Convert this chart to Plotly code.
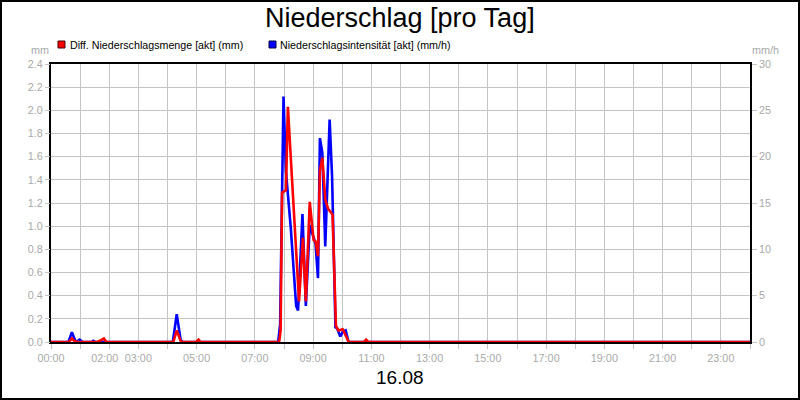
import plotly.graph_objects as go

# ---- data -------------------------------------------------------------
# Niederschlagsintensität [akt] (mm/h) – right axis
intens_time = ["00:00", "00:36", "00:43", "00:51", "00:59", "01:05", "01:24", "01:27", "01:31",
               "04:11", "04:19", "04:27", "04:31",
               "07:48", "07:52", "07:59", "08:04", "08:14", "08:25", "08:29", "08:38", "08:45",
               "08:53", "09:01", "09:05", "09:10", "09:14", "09:19", "09:25", "09:34", "09:39",
               "09:46", "09:49", "09:56", "10:01", "10:07", "10:13", "24:00"]
intens_val = [0, 0, 1.05, 0, 0.25, 0, 0, 0.12, 0,
              0, 3.0, 0.25, 0,
              0, 1.9, 26.5, 18.4, 12.3, 3.9, 3.4, 13.8, 3.9,
              12.6, 11.3, 10.6, 6.9, 22.0, 20.4, 10.3, 24.0, 17.9,
              1.6, 1.5, 0.6, 1.1, 1.25, 0, 0]

# Diff. Niederschlagsmenge [akt] (mm) – left axis
menge_time = ["00:00", "00:37", "00:43", "00:48", "00:54", "01:36", "01:45", "01:49", "01:54",
              "04:12", "04:19", "04:27", "04:31", "04:59", "05:04", "05:08",
              "07:50", "07:53", "07:56", "08:04", "08:08", "08:17", "08:31", "08:39", "08:45",
              "08:53", "09:01", "09:05", "09:10", "09:14", "09:19", "09:25", "09:31", "09:40",
              "09:47", "09:52", "10:01", "10:10", "10:13", "10:45", "10:49", "10:54", "24:00"]
menge_val = [0, 0, 0.03, 0.01, 0, 0, 0.02, 0.03, 0,
             0, 0.10, 0.01, 0, 0, 0.02, 0,
             0, 0.10, 1.29, 1.31, 2.03, 1.39, 0.35, 0.90, 0.35,
             1.21, 0.88, 0.87, 0.74, 1.48, 1.59, 1.23, 1.15, 1.10,
             0.14, 0.10, 0.11, 0.03, 0, 0, 0.02, 0, 0]

hour_labels = ["00:00", "", "02:00\u00a0\u00a0\u00a0", "03:00", "", "05:00", "", "07:00", "", "09:00", "",
               "11:00", "", "13:00", "", "15:00", "", "17:00", "", "19:00", "", "21:00", "",
               "23:00", ""]
mm_ticks = [0.0, 0.2, 0.4, 0.6, 0.8, 1.0, 1.2, 1.4, 1.6, 1.8, 2.0, 2.2, 2.4]
mmh_ticks = [0, 5, 10, 15, 20, 25, 30]

title_text = "Niederschlag [pro Tag]"
date_text = "16.08"
name_menge = "Diff. Niederschlagsmenge [akt] (mm)"
name_intens = "Niederschlagsintensität [akt] (mm/h)"


def to_hours(t):
    h, m = t.split(":")
    return int(h) + int(m) / 60.0


FONT = "Arial, Liberation Sans, sans-serif"
GREY = "#a9a9a9"
GRID = "#c4c4c4"

# plot area in pixels: x 51..750, y 64..342
L, R, T, B = 51, 750, 64, 342


def px(x):
    return (x - L) / (R - L)


def py(y):
    return (B - y) / (B - T)


fig = go.Figure()
# blue on the base axis (right side), red on the overlaying axis (left side) so red is on top
fig.add_trace(go.Scatter(x=[to_hours(t) for t in intens_time], y=intens_val, yaxis="y",
                         mode="lines", line=dict(color="#0000ff", width=2.6),
                         name=name_intens, showlegend=False))
fig.add_trace(go.Scatter(x=[to_hours(t) for t in menge_time], y=menge_val, yaxis="y2",
                         mode="lines", line=dict(color="#ff0000", width=2.6),
                         name=name_menge, showlegend=False))

tick_font = dict(family=FONT, size=10.8, color=GREY)

fig.update_layout(
    width=800, height=400,
    margin=dict(l=L, r=800 - R, t=T, b=400 - B, pad=0, autoexpand=False),
    paper_bgcolor="white", plot_bgcolor="white",
    showlegend=False,
    xaxis=dict(range=[0, 24], tickvals=list(range(25)), ticktext=hour_labels, tickangle=0,
               showgrid=True, gridcolor=GRID, gridwidth=1, automargin=False,
               ticks="outside", ticklen=5, tickcolor=GRID, tickfont=tick_font,
               showline=True, linecolor="black", linewidth=1.5, mirror=True,
               zeroline=False, layer="below traces", fixedrange=True),
    yaxis=dict(range=[0, 30], tickvals=mmh_ticks, side="right", automargin=False,
               showgrid=False, ticks="outside", ticklen=5, tickcolor=GRID, tickfont=tick_font,
               showline=True, linecolor="black", linewidth=1.5, mirror=True,
               zeroline=False, layer="below traces", fixedrange=True),
    yaxis2=dict(range=[0, 2.4], tickvals=mm_ticks, tickformat=".1f", overlaying="y", side="left",
                showgrid=True, gridcolor=GRID, gridwidth=1, automargin=False,
                ticks="outside", ticklen=5, tickcolor=GRID, tickfont=tick_font,
                showline=False, zeroline=False, layer="below traces", fixedrange=True),
)

shapes = [
    # outer frame
    dict(type="rect", xref="paper", yref="paper",
         x0=px(1), x1=px(799), y0=py(399), y1=py(1),
         line=dict(color="black", width=2), fillcolor="rgba(0,0,0,0)", layer="above"),
    # legend squares
    dict(type="rect", xref="paper", yref="paper",
         x0=px(58), x1=px(65), y0=py(48), y1=py(41),
         line=dict(color="#400000", width=1), fillcolor="#ff0000"),
    dict(type="rect", xref="paper", yref="paper",
         x0=px(269), x1=px(276), y0=py(48), y1=py(41),
         line=dict(color="#000040", width=1), fillcolor="#0000ff"),
]

annotations = [
    dict(text=title_text, x=px(400), y=py(18), xref="paper", yref="paper",
         xanchor="center", yanchor="middle", showarrow=False,
         font=dict(family=FONT, size=27, color="black")),
    dict(text=date_text, x=px(400), y=py(377), xref="paper", yref="paper",
         xanchor="center", yanchor="middle", showarrow=False,
         font=dict(family=FONT, size=19, color="black")),
    dict(text=name_menge, x=px(68), y=py(45), xref="paper", yref="paper",
         xanchor="left", yanchor="middle", showarrow=False,
         font=dict(family=FONT, size=10.7, color="black")),
    dict(text=name_intens, x=px(278), y=py(45), xref="paper", yref="paper",
         xanchor="left", yanchor="middle", showarrow=False,
         font=dict(family=FONT, size=10.7, color="black")),
    dict(text="mm", x=px(40), y=py(50), xref="paper", yref="paper",
         xanchor="center", yanchor="middle", showarrow=False,
         font=dict(family=FONT, size=10.8, color=GREY)),
    dict(text="mm/h", x=px(765), y=py(50), xref="paper", yref="paper",
         xanchor="center", yanchor="middle", showarrow=False,
         font=dict(family=FONT, size=10.8, color=GREY)),
]

fig.update_layout(shapes=shapes, annotations=annotations)
fig.write_html("out.html", config={"displayModeBar": False},
               post_script="document.body.style.margin='0';document.body.style.overflow='hidden';")
